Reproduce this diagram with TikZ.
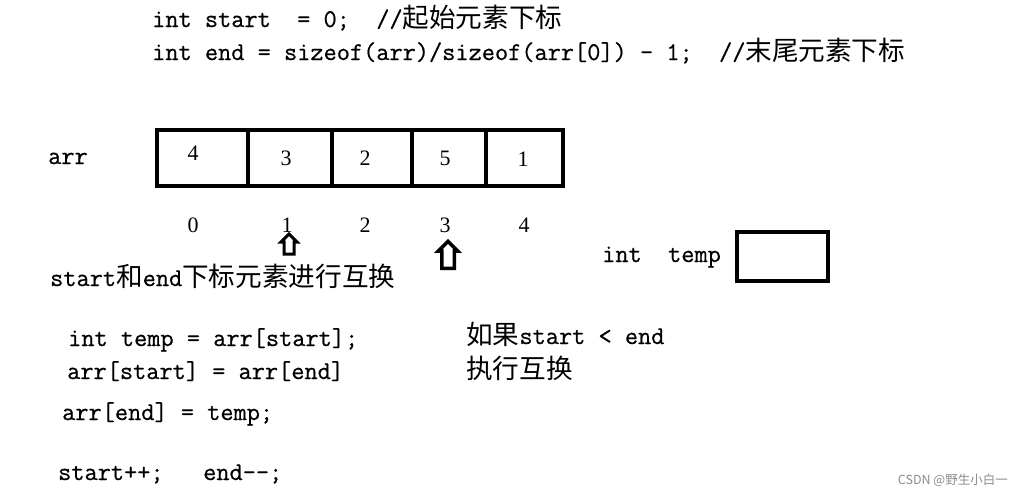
\documentclass[tikz,border=0pt]{standalone}
\usepackage{fontspec}
\setmainfont{Liberation Serif}
\setmonofont[FakeBold=0.6]{Latin Modern Mono}
\newfontfamily\cjk[Scale=1.04]{Noto Sans CJK SC}
\newfontfamily\wmfont{Noto Sans CJK SC}
\newcommand\zh[1]{{\cjk #1}}
\usetikzlibrary{positioning,shapes.arrows}

\begin{document}
\begin{tikzpicture}[x=1pt,y=-1pt]
            \tikzset{code/.style={anchor=base west, inner sep=0pt, font=\ttfamily\fontsize{25.6}{28}\selectfont},
                     cell/.style={draw, line width=4pt, minimum height=56pt, inner sep=0pt},
                     num/.style={inner sep=0pt, font=\rmfamily\fontsize{22}{24}\selectfont},
                     uparrow/.style={draw, fill=white, single arrow, shape border rotate=90, line width=3pt},
                     tempbox/.style={draw, line width=4pt, minimum width=91pt, minimum height=49pt}}
            \useasboundingbox (0,0) rectangle (1014,490);

            % declarations
            \node[code] (l1) at (152,27) {int start\ \ = 0;\ \ //\zh{起始元素下标}};
            \node[code] (l2) at (152,60) {int end = sizeof(arr)/sizeof(arr[0]) - 1;\ \ //\zh{末尾元素下标}};

            % the array
            \node[code] (arr) at (48,164) {arr};
            \foreach \xa/\xb [count=\i from 0] in {157/248,248/332,332/412,412/486,486/563} {
                \pgfmathsetmacro\w{\xb-\xa}
                \node[cell, minimum width=\w pt] (c\i) at ({(\xa+\xb)/2},158) {};
            }
            \foreach \v/\x/\y [count=\i from 0] in {4/193/153,3/286/158,2/365/158,5/445/158,1/523/159}
                \node[num] (v\i) at (\x,\y) {\v};
            \foreach \x [count=\i from 0] in {193,287,365,445,524}
                \node[num] (n\i) at (\x,225) {\i};

            % start and end
            \node[uparrow, minimum height=20pt, inner sep=3.5pt, single arrow head extend=3pt] (ps) at (289,246.5) {};
            \node[uparrow, minimum height=27pt, inner sep=4.5pt, single arrow head extend=3.5pt, line width=3.5pt] (pe) at (448,258) {};
            \node[code] (swap) at (50,286) {start\zh{和}end\zh{下标元素进行互换}};

            % temp
            \node[code] (tlabel) at (602,262) {int\ \ temp};
            \node[tempbox] (tmp) at (782.5,256.5) {};

            % swap steps
            \node[code] (s1) at (68,346) {int temp = arr[start];};
            \node[code] (s2) at (67,379) {arr[start] = arr[end]};
            \node[code] (s3) at (62,420) {arr[end] = temp;};
            \node[code] (s4) at (58,480) {start++;\ \ \ end--;};
            \node[code] (c1) at (466,344) {\zh{如果}start < end};
            \node[code] (c2) at (466,378) {\zh{执行互换}};

            \node[anchor=base east, inner sep=0pt, text=black!45, font=\wmfont\fontsize{12.5}{14}\selectfont] (wm) at (1008,484) {CSDN @野生小白一};
        \end{tikzpicture}
\end{document}
